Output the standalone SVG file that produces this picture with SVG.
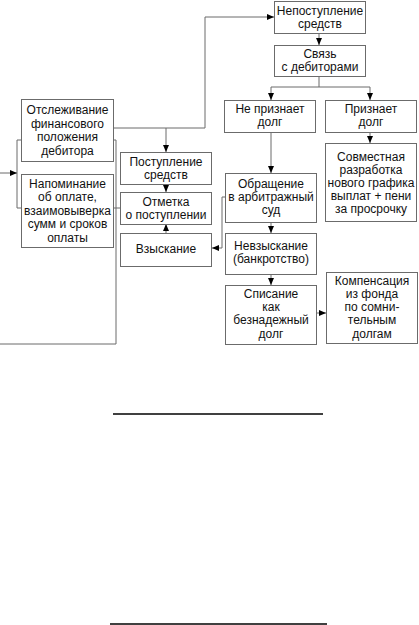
<svg xmlns="http://www.w3.org/2000/svg" width="419" height="625" viewBox="0 0 419 625">
<style>
.box{fill:#fff;stroke:#6b6b6b;stroke-width:1}
.t{font-family:"Liberation Sans",Arial,sans-serif;font-size:12px;fill:#111;text-anchor:middle}
.c{fill:none;stroke:#6b6b6b;stroke-width:1}
.a{marker-end:url(#ah)}
.rule{stroke:#000;stroke-width:1.5}
</style>
<defs>
<marker id="ah" markerUnits="userSpaceOnUse" markerWidth="7" markerHeight="6" refX="7" refY="3" orient="auto">
<path d="M0,0 L7,3 L0,6 z" fill="#000"/>
</marker>
</defs>
<rect width="419" height="625" fill="#fff"/>
<g id="connectors">
<path class="c a" d="M113,128 H205 V17 H274"/>
<path class="c a" d="M166,128 V152"/>
<path class="c a" d="M166,184 V192"/>
<path class="c a" d="M166,233 V224"/>
<path class="c a" d="M225,197 H222 V248 H212"/>
<path class="c a" d="M319,33 V45"/>
<path class="c" d="M319,76 V87 M271,87 H370"/>
<path class="c a" d="M271,87 V100"/>
<path class="c a" d="M370,87 V100"/>
<path class="c a" d="M370,132 V143"/>
<path class="c a" d="M271,132 V173"/>
<path class="c a" d="M271,222 V233"/>
<path class="c a" d="M271,274 V285"/>
<path class="c a" d="M316,313 H326"/>
<path class="c" d="M22,140 H17 V208 H22"/>
<path class="c" d="M113,140 H116 V344 H0"/>
<path class="c" d="M113,208 H120"/>
<path class="c a" d="M0,173 H17"/>
</g>
<g id="n_otsl">
<rect class="box" x="21.5" y="99.5" width="92" height="62"/>
<text class="t" x="67.5" y="114">Отслеживание</text>
<text class="t" x="67.5" y="127.5">финансового</text>
<text class="t" x="67.5" y="141">положения</text>
<text class="t" x="67.5" y="154.5">дебитора</text>
</g>
<g id="n_napom">
<rect class="box" x="21.5" y="174.5" width="92" height="73"/>
<text class="t" x="67.5" y="188">Напоминание</text>
<text class="t" x="67.5" y="201.3">об оплате,</text>
<text class="t" x="67.5" y="214.6">взаимовыверка</text>
<text class="t" x="67.5" y="228">сумм и сроков</text>
<text class="t" x="67.5" y="241.5">оплаты</text>
</g>
<g id="n_postup">
<rect class="box" x="120.5" y="152.5" width="91" height="32"/>
<text class="t" x="166" y="165.5">Поступление</text>
<text class="t" x="166" y="178.5">средств</text>
</g>
<g id="n_otmetka">
<rect class="box" x="120.5" y="192.5" width="91" height="32"/>
<text class="t" x="166" y="206">Отметка</text>
<text class="t" x="166" y="219">о поступлении</text>
</g>
<g id="n_vzysk">
<rect class="box" x="120.5" y="233.5" width="91" height="33"/>
<text class="t" x="166" y="253">Взыскание</text>
</g>
<g id="n_nepost">
<rect class="box" x="274.5" y="1.5" width="91" height="32"/>
<text class="t" x="320" y="15">Непоступление</text>
<text class="t" x="320" y="28">средств</text>
</g>
<g id="n_svyaz">
<rect class="box" x="274.5" y="45.5" width="91" height="31"/>
<text class="t" x="320" y="58">Связь</text>
<text class="t" x="320" y="71">с дебиторами</text>
</g>
<g id="n_nepriz">
<rect class="box" x="224.5" y="100.5" width="91" height="32"/>
<text class="t" x="270" y="113">Не признает</text>
<text class="t" x="270" y="126">долг</text>
</g>
<g id="n_priz">
<rect class="box" x="325.5" y="100.5" width="91" height="32"/>
<text class="t" x="371" y="113">Признает</text>
<text class="t" x="371" y="126">долг</text>
</g>
<g id="n_sovm">
<rect class="box" x="325.5" y="143.5" width="91" height="78"/>
<text class="t" x="371" y="161">Совместная</text>
<text class="t" x="371" y="174">разработка</text>
<text class="t" x="371" y="187">нового графика</text>
<text class="t" x="371" y="200">выплат + пени</text>
<text class="t" x="371" y="213">за просрочку</text>
</g>
<g id="n_obrash">
<rect class="box" x="225.5" y="173.5" width="91" height="49"/>
<text class="t" x="271" y="188">Обращение</text>
<text class="t" x="271" y="201">в арбитражный</text>
<text class="t" x="271" y="214">суд</text>
</g>
<g id="n_nevzysk">
<rect class="box" x="225.5" y="233.5" width="91" height="41"/>
<text class="t" x="271" y="250">Невзыскание</text>
<text class="t" x="271" y="263">(банкротство)</text>
</g>
<g id="n_spisanie">
<rect class="box" x="225.5" y="285.5" width="91" height="59"/>
<text class="t" x="271" y="297.5">Списание</text>
<text class="t" x="271" y="311">как</text>
<text class="t" x="271" y="324">безнадежный</text>
<text class="t" x="271" y="337.5">долг</text>
</g>
<g id="n_komp">
<rect class="box" x="326.5" y="272.5" width="91" height="71"/>
<text class="t" x="372" y="284.5">Компенсация</text>
<text class="t" x="372" y="297.5">из фонда</text>
<text class="t" x="372" y="311">по сомни-</text>
<text class="t" x="372" y="324">тельным</text>
<text class="t" x="372" y="337.5">долгам</text>
</g>
<line class="rule" x1="113" y1="414" x2="323" y2="414"/>
<line class="rule" x1="110" y1="624" x2="327" y2="624"/>
</svg>
